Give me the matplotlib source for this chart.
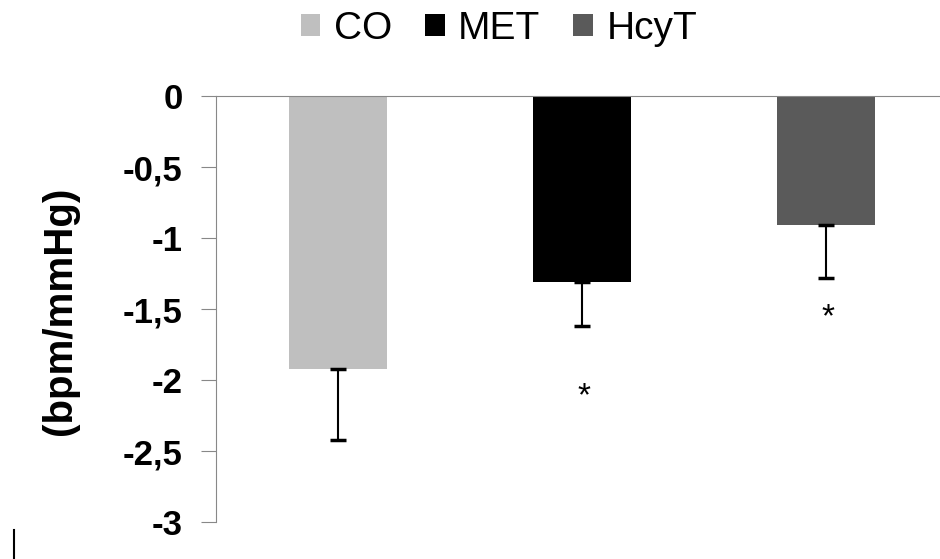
import matplotlib.pyplot as plt
from matplotlib.lines import Line2D
from matplotlib.patches import Patch

groups = ["CO", "MET", "HcyT"]
means = [-1.92, -1.31, -0.91]
errors = [0.50, 0.31, 0.37]
colors = ["#bfbfbf", "#000000", "#5a5a5a"]
star_y = [None, -2.12, -1.56]
yticks = [0, -0.5, -1, -1.5, -2, -2.5, -3]
ytick_labels = ["0", "-0,5", "-1", "-1,5", "-2", "-2,5", "-3"]

plt.rcParams["font.family"] = ["Liberation Sans", "DejaVu Sans"]

fig = plt.figure(figsize=(9.4, 5.59), dpi=100)
ax = fig.add_axes([216 / 940, 1 - 522 / 559, 732 / 940, 426 / 559])

x = list(range(len(groups)))
ax.bar(x, means, width=0.4, color=colors, zorder=2)
# error bars only go downward
ax.errorbar(x, means, yerr=[errors, [0] * len(errors)], fmt="none",
            ecolor="black", elinewidth=1.5, capsize=6, capthick=2.5, zorder=3)

for xi, sy in zip(x, star_y):
    if sy is not None:
        ax.text(xi + 0.01, sy, "*", ha="center", va="center", fontsize=24)

ax.set_xlim(-0.5, 2.5)
ax.set_ylim(-3, 0)
ax.set_yticks(yticks)
ax.set_yticklabels(ytick_labels, fontsize=25, fontweight="bold")
ax.tick_params(axis="y", direction="out", length=11, color="#888888", pad=13)
ax.set_xticks([])

for side in ["right", "bottom"]:
    ax.spines[side].set_visible(False)
ax.spines["left"].set_color("#888888")
ax.spines["top"].set_color("#888888")

ax.set_ylabel("(bpm/mmHg)", fontsize=29, fontweight="bold")
ax.yaxis.set_label_coords(-0.187, 0.5 - (311 - 309) / 426)

handles = [Patch(facecolor=c, edgecolor="none") for c in colors]
fig.legend(handles, groups, loc="center", bbox_to_anchor=(499 / 940, 1 - 29 / 559),
           ncol=3, frameon=False, fontsize=28, handlelength=0.5, handleheight=0.5,
           handletextpad=0.35, columnspacing=0.85)

# small stray mark at bottom-left of the original
fig.add_artist(Line2D([14 / 940, 14 / 940], [0, 29 / 559], color="black", lw=1.5))

fig.savefig("out.png", dpi=100)
